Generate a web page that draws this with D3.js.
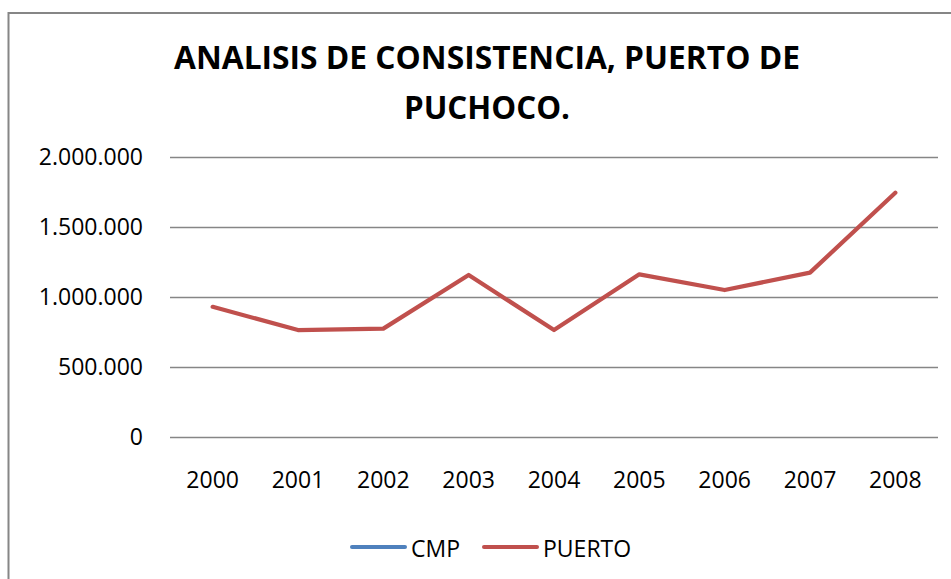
<!DOCTYPE html>
<html>
<head>
<meta charset="utf-8">
<script src="https://cdn.jsdelivr.net/npm/d3@7"></script>
<style>
  body { margin: 0; background: #fff; }
  svg { display: block; font-family: "Open Sans", sans-serif; }
</style>
</head>
<body>
<svg id="chart" width="951" height="579"></svg>
<script>
// values
var YEARS = ["2000", "2001", "2002", "2003", "2004", "2005", "2006", "2007", "2008"];
var PUERTO = [930000, 764000, 774000, 1157000, 764000, 1162000, 1050000, 1174000, 1745000];
var CMP = []; // listed in the legend, no visible line
var Y_TICKS = [0, 500000, 1000000, 1500000, 2000000];
var SERIES = [
  {name: "CMP", color: "#4F81BD", values: CMP},
  {name: "PUERTO", color: "#C0504D", values: PUERTO}
];

var margin = {top: 157, right: 13, bottom: 142, left: 170};
var svg = d3.select("#chart");
var W = +svg.attr("width"), H = +svg.attr("height");
var width = W - margin.left - margin.right;
var height = H - margin.top - margin.bottom;

// chart border (runs off the right and bottom edge)
svg.append("rect")
    .attr("x", 8.5).attr("y", 13)
    .attr("width", W + 20).attr("height", H + 20)
    .attr("fill", "#fff")
    .attr("stroke", "#868686")
    .attr("stroke-width", 2);

// title
var title = svg.append("g")
    .attr("font-weight", "bold")
    .attr("font-size", 33)
    .attr("text-anchor", "middle")
    .attr("fill", "#000");
title.append("text")
    .attr("x", 487).attr("y", 69)
    .attr("textLength", 626)
    .attr("lengthAdjust", "spacingAndGlyphs")
    .text("ANALISIS DE CONSISTENCIA, PUERTO DE");
title.append("text")
    .attr("x", 487).attr("y", 119)
    .attr("textLength", 166)
    .attr("lengthAdjust", "spacingAndGlyphs")
    .text("PUCHOCO.");

var g = svg.append("g")
    .attr("transform", "translate(" + margin.left + "," + margin.top + ")");

var x = d3.scaleBand()
    .domain(YEARS)
    .range([0, width])
    .padding(0);

var y = d3.scaleLinear()
    .domain([0, 2000000])
    .range([height, 0]);

var es = d3.formatLocale({decimal: ",", thousands: ".", grouping: [3], currency: ["", ""]});

g.append("g")
    .attr("class", "y axis")
    .call(d3.axisLeft(y).tickValues(Y_TICKS).tickFormat(es.format(",d"))
      .tickSizeInner(-width).tickSizeOuter(0).tickPadding(27));

g.select(".y.axis .domain").remove();
g.selectAll(".y.axis .tick line")
    .attr("stroke", "#868686")
    .attr("stroke-width", 1.5);
g.selectAll(".y.axis text")
    .attr("font-family", "Open Sans, sans-serif")
    .attr("font-size", 23)
    .attr("fill", "#000");

g.append("g")
    .attr("class", "x axis")
    .attr("transform", "translate(0," + height + ")")
    .call(d3.axisBottom(x).tickSize(0).tickPadding(35));

g.select(".x.axis .domain").remove();
g.selectAll(".x.axis text")
    .attr("font-family", "Open Sans, sans-serif")
    .attr("font-size", 23)
    .attr("fill", "#000");

var line = d3.line()
    .x(function(d, i) { return x(YEARS[i]) + x.bandwidth() / 2; })
    .y(function(d) { return y(d); });

g.selectAll(".series")
    .data(SERIES.filter(function(s) { return s.values.length; }))
  .enter().append("path")
    .attr("class", "series")
    .attr("fill", "none")
    .attr("stroke", function(d) { return d.color; })
    .attr("stroke-width", 4.25)
    .attr("stroke-linejoin", "round")
    .attr("stroke-linecap", "round")
    .attr("d", function(d) { return line(d.values); });

// legend
var legendX = [352, 484];
var legend = svg.append("g")
    .attr("font-size", 23)
  .selectAll("g")
  .data(SERIES)
  .enter().append("g")
    .attr("transform", function(d, i) { return "translate(" + legendX[i] + ",547)"; });

legend.append("line")
    .attr("x1", 0).attr("x2", 53)
    .attr("stroke", function(d) { return d.color; })
    .attr("stroke-width", 4)
    .attr("stroke-linecap", "round");

legend.append("text")
    .attr("x", 59)
    .attr("y", 10)
    .attr("fill", "#000")
    .text(function(d) { return d.name; });
</script>
</body>
</html>
